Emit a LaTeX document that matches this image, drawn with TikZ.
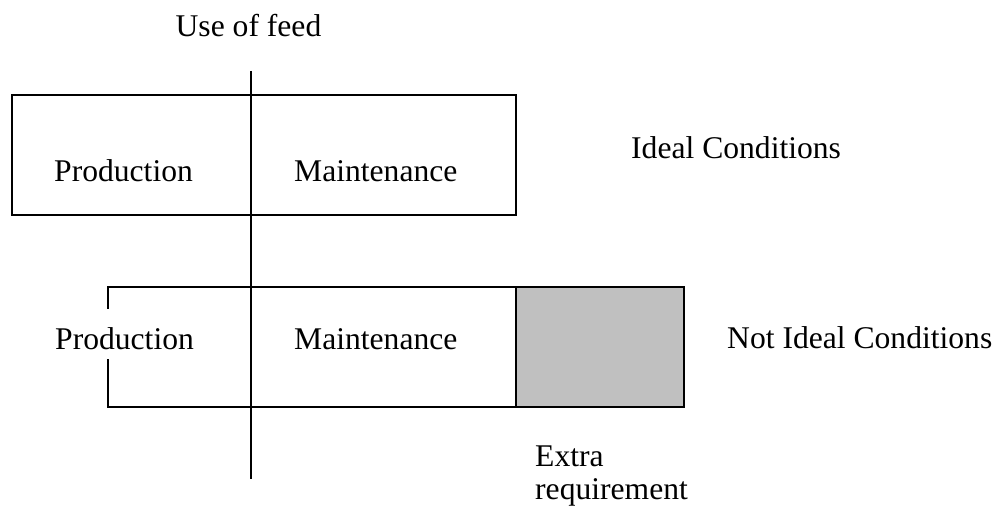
\documentclass[tikz,border=0pt]{standalone}
\usepackage{fontspec}
\setmainfont{Liberation Serif}
\usepackage{tikz}
\usetikzlibrary{positioning}
\definecolor{extragray}{HTML}{C0C0C0}

\begin{document}
\begin{tikzpicture}[x=1pt,y=-1pt,
    cell/.style={draw,line width=1.6pt,inner sep=0pt,anchor=north west,minimum height=120pt},
    lbl/.style={font=\fontsize{31.6}{33}\selectfont,inner sep=0pt,anchor=base west}]
  \useasboundingbox (0,0) rectangle (996,511);

  % ideal case: one box split by the axis
  \node[cell,minimum width=504pt] (ideal) at (11,94) {};
  % not ideal: shifted box plus the grey surplus
  \node[cell,minimum width=408pt] (real) at (107,286) {};
  \node[cell,fill=extragray,line width=2pt,minimum width=168pt] (extra) at (515,286) {};

  \coordinate (axtop) at (251,71);
  \coordinate (axbot) at (251,479);
  \draw[line width=1.6pt] (axtop) -- (axbot);

  \node[lbl,anchor=base] (feed) at (248.5,37) {Use of feed};
  \node[lbl] (prod1) at (54,181) {Production};
  \node[lbl] (main1) at (294,181) {Maintenance};
  \node[lbl] (idealtxt) at (631,158) {Ideal Conditions};
  \node[lbl,fill=white,text height=40pt,text depth=10pt] (prod2) at (55,349) {Production};
  \node[lbl] (main2) at (294,349) {Maintenance};
  \node[lbl] (realtxt) at (727,348) {Not Ideal Conditions};
  \node[lbl,anchor=north west,align=left] (extratxt) at (535,446) {Extra\\requirement};
\end{tikzpicture}
\end{document}
